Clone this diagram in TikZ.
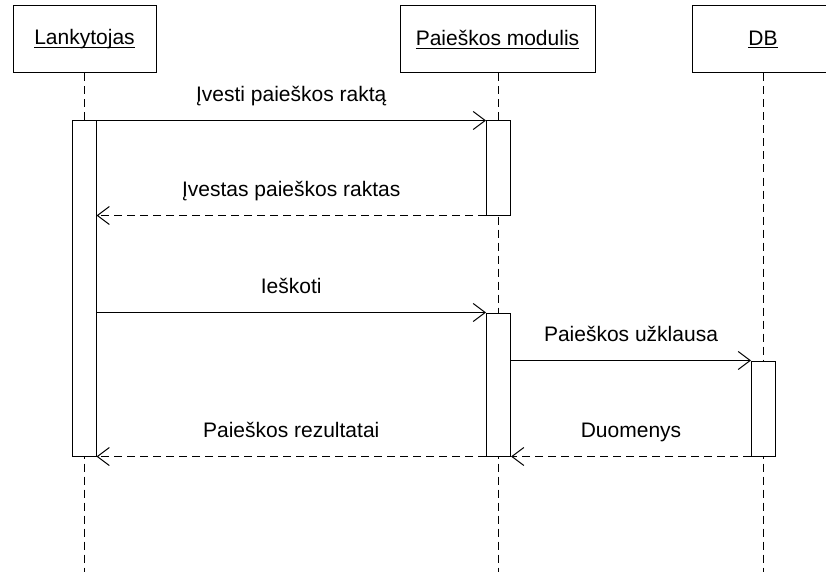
\documentclass[tikz,border=0pt]{standalone}
\usepackage{fontspec}
\setmainfont{Liberation Sans}
\usetikzlibrary{arrows.meta}
\newcommand\myul[1]{{\setbox0\hbox{#1}\rlap{\rule[-2.8pt]{\wd0}{1pt}}\box0}}
\begin{document}
\begin{tikzpicture}[x=1pt,y=-1pt,line width=1pt,
  every node/.style={font=\fontsize{21}{25}\selectfont},
  obj/.style={draw,fill=white,minimum height=67pt,inner sep=0pt},
  bar/.style={draw,fill=white,minimum width=24pt,inner sep=0pt},
  life/.style={dash pattern=on 8pt off 5pt},
  msg/.style={-{Straight Barb[length=12pt,width=18pt]}},
  ret/.style={msg,dash pattern=on 8pt off 5pt},
  lbl/.style={anchor=base,inner sep=0pt}]
\useasboundingbox (0,0) rectangle (826,572);
\clip (0,0) rectangle (826,572);
% objects
\node[obj,minimum width=143pt] (A) at (84.5,39.5) {\myul{Lankytojas}};
\node[obj,minimum width=195pt] (B) at (497.5,39.5) {\myul{Paieškos modulis}};
\node[obj,minimum width=142pt] (C) at (763,39.5) {\myul{DB}};
% lifeline ends
\coordinate (Aend) at (84,572);
\coordinate (Bend) at (498,572);
\coordinate (Cend) at (763,572);
\draw[life] (A.south -| Aend) -- (Aend);
\draw[life] (B.south -| Bend) -- (Bend);
\draw[life] (C.south -| Cend) -- (Cend);
% activation bars
\node[bar,minimum height=335pt] (A1) at (84,288.5) {};
\node[bar,minimum height=94pt] (B1) at (498.5,168) {};
\node[bar,minimum height=143pt] (B2) at (498.5,384.5) {};
\node[bar,minimum height=95pt] (C1) at (763.5,408.5) {};
% messages
\draw[msg] (A1.east |- B1.north) -- (B1.north west)
  node[lbl,midway,yshift=19pt] (m1) {Įvesti paieškos raktą};
\draw[ret] (B1.south west) -- (A1.east |- B1.south)
  node[lbl,midway,yshift=19pt] (m2) {Įvestas paieškos raktas};
\draw[msg] (A1.east |- B2.north) -- (B2.north west)
  node[lbl,midway,yshift=19pt] (m3) {Ieškoti};
\draw[msg] (B2.east |- C1.north) -- (C1.north west)
  node[lbl,midway,yshift=19pt] (m4) {Paieškos užklausa};
\draw[ret] (C1.south west) -- (B2.south east)
  node[lbl,midway,yshift=19pt] (m5) {Duomenys};
\draw[ret] (B2.south west) -- (A1.south east)
  node[lbl,midway,yshift=19pt] (m6) {Paieškos rezultatai};
\end{tikzpicture}
\end{document}
